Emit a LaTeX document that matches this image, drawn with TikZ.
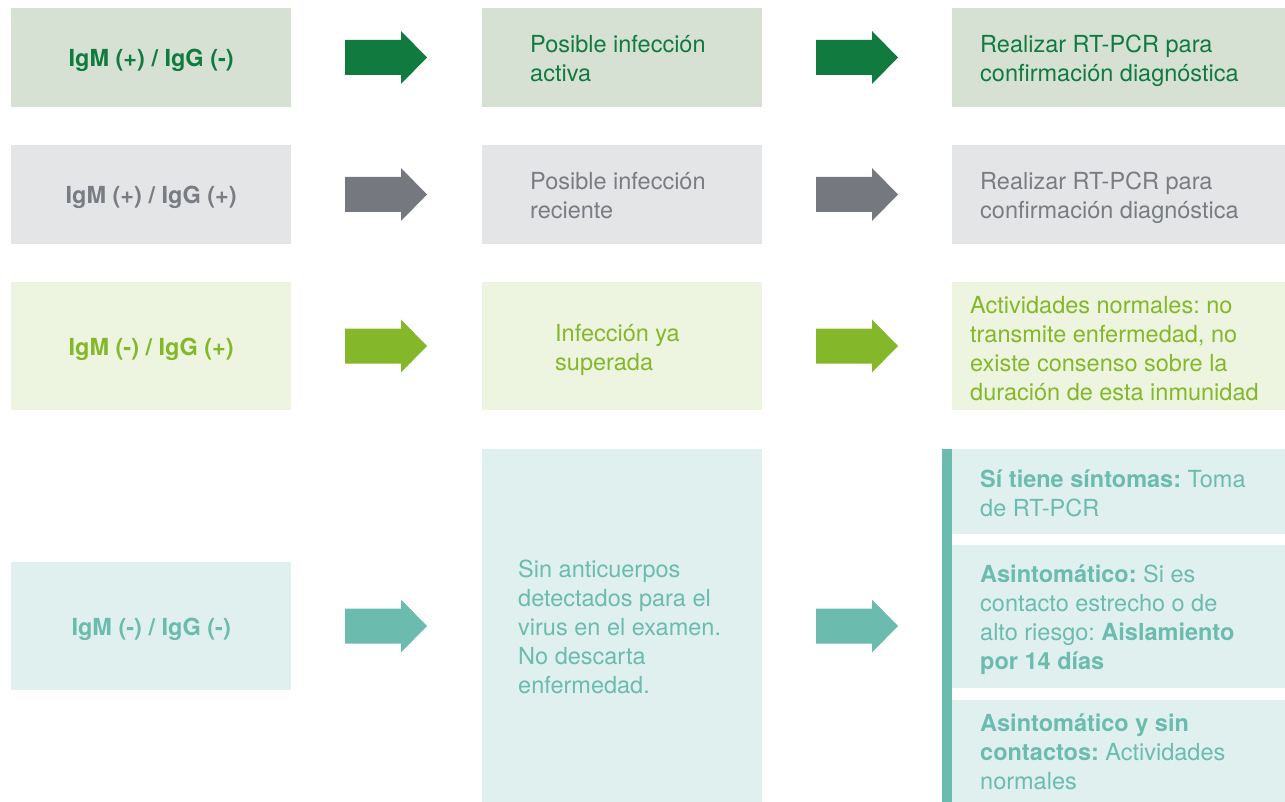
\documentclass[tikz,border=0pt]{standalone}
\usepackage{fontspec}
\setmainfont{TeX Gyre Heros}
\frenchspacing
\definecolor{bgA}{HTML}{D6E1D4}
\definecolor{fgA}{HTML}{107A3F}
\definecolor{bgB}{HTML}{E4E5E7}
\definecolor{fgB}{HTML}{797C82}
\definecolor{arB}{HTML}{75787E}
\definecolor{bgC}{HTML}{EDF4E0}
\definecolor{fgC}{HTML}{84B82A}
\definecolor{bgD}{HTML}{E0F0EE}
\definecolor{fgD}{HTML}{6BBBAE}
\newcommand\fatarrow[3]{\fill[#1] (#2,#3) ++(-41,-17.5) -- ++(56,0) -- ++(0,-9) -- ++(26,26.5) -- ++(-26,26.5) -- ++(0,-9) -- ++(-56,0) -- cycle;}
\begin{document}
\begin{tikzpicture}[x=1pt,y=-1pt,
  box/.style={draw=none,inner sep=0pt,anchor=north west,minimum width=280pt},
  wbox/.style={draw=none,inner sep=0pt,anchor=north west,minimum width=333pt},
  txt/.style={font=\fontsize{23.5}{29}\selectfont\frenchspacing,align=left,inner sep=0pt},
  lab/.style={font=\fontsize{23.5}{29}\selectfont\bfseries,inner sep=0pt}]
\useasboundingbox (0,0) rectangle (1285,802);
% Row 1
\node[box,fill=bgA,minimum height=99pt] (b11) at (11,8) {};
\node[box,fill=bgA,minimum height=99pt] (b12) at (482,8) {};
\node[wbox,fill=bgA,minimum height=99pt] (b13) at (952,8) {};
\node[lab,text=fgA] (t11) at ([yshift=-3pt]b11.center) {IgM (+) / IgG (-)};
\node[txt,text=fgA,anchor=west] (t12) at (530,59) {Posible infección\\activa};
\node[txt,text=fgA,anchor=west] (t13) at (980,61) {Realizar RT-PCR para\\confirmación diagnóstica};
\fatarrow{fgA}{386}{57.5}
\fatarrow{fgA}{857}{57.5}
% Row 2
\node[box,fill=bgB,minimum height=99pt] (b21) at (11,145) {};
\node[box,fill=bgB,minimum height=99pt] (b22) at (482,145) {};
\node[wbox,fill=bgB,minimum height=99pt] (b23) at (952,145) {};
\node[lab,text=fgB] (t21) at ([yshift=-3pt]b21.center) {IgM (+) / IgG (+)};
\node[txt,text=fgB,anchor=west] (t22) at (530,196) {Posible infección\\reciente};
\node[txt,text=fgB,anchor=west] (t23) at (980,198) {Realizar RT-PCR para\\confirmación diagnóstica};
\fatarrow{arB}{386}{194.5}
\fatarrow{arB}{857}{194.5}
% Row 3
\node[box,fill=bgC,minimum height=128pt] (b31) at (11,282) {};
\node[box,fill=bgC,minimum height=128pt] (b32) at (482,282) {};
\node[wbox,fill=bgC,minimum height=128pt] (b33) at (952,282) {};
\node[lab,text=fgC] (t31) at ([yshift=-3pt]b31.center) {IgM (-) / IgG (+)};
\node[txt,text=fgC,anchor=west] (t32) at (555,350) {Infección ya\\superada};
\node[txt,text=fgC,anchor=west] (t33) at (970,349) {Actividades normales: no\\transmite enfermedad, no\\existe consenso sobre la\\duración de esta inmunidad};
\fatarrow{fgC}{386}{346}
\fatarrow{fgC}{857}{346}
% Row 4
\node[box,fill=bgD,minimum height=128pt] (b41) at (11,562) {};
\node[box,fill=bgD,minimum height=353pt] (b42) at (482,449) {};
\node[draw=none,fill=fgD,inner sep=0pt,anchor=north west,minimum width=10pt,minimum height=353pt] (bar) at (942,449) {};
\node[wbox,fill=bgD,minimum height=85pt] (s1) at (952,449) {};
\node[wbox,fill=bgD,minimum height=143pt] (s2) at (952,545) {};
\node[wbox,fill=bgD,minimum height=102pt] (s3) at (952,700) {};
\node[lab,text=fgD] (t41) at ([yshift=-3pt]b41.center) {IgM (-) / IgG (-)};
\node[txt,text=fgD,anchor=west] (t42) at (518,627) {Sin anticuerpos\\detectados para el\\virus en el examen.\\No descarta\\enfermedad.};
\node[txt,text=fgD,anchor=west] (u1) at (980,493) {\textbf{Sí tiene síntomas:} Toma\\de RT-PCR};
\node[txt,text=fgD,anchor=west] (u2) at (980,620) {\textbf{Asintomático:} Si es\\contacto estrecho o de\\alto riesgo: \textbf{Aislamiento}\\\textbf{por 14 días}};
\node[txt,text=fgD,anchor=west] (u3) at (980,752) {\textbf{Asintomático y sin}\\\textbf{contactos:} Actividades\\normales};
\fatarrow{fgD}{386}{626}
\fatarrow{fgD}{857}{626}
\end{tikzpicture}
\end{document}
